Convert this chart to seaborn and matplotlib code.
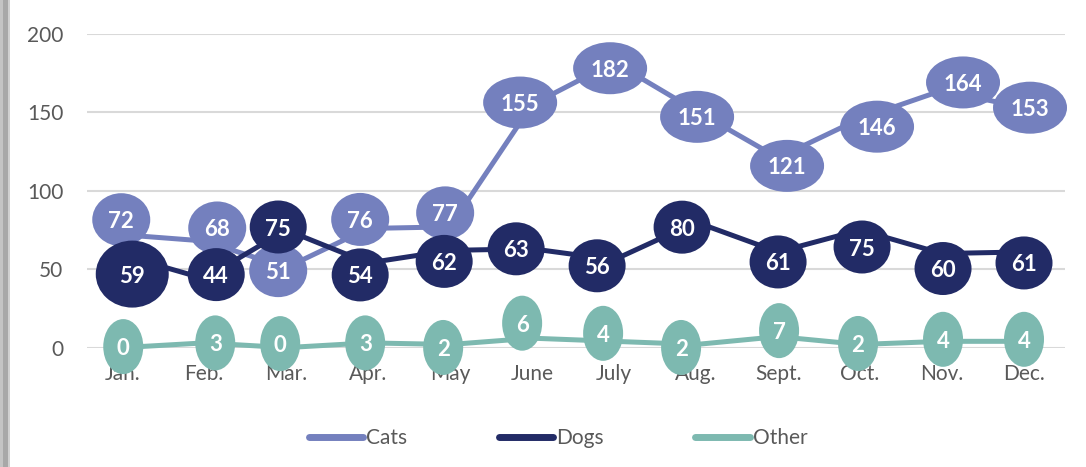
import numpy as np
import pandas as pd
import matplotlib
matplotlib.use('Agg')
import matplotlib.pyplot as plt
import seaborn as sns
from matplotlib.patches import Ellipse, Rectangle

# ---- data ----
months = ['Jan.', 'Feb.', 'Mar.', 'Apr.', 'May', 'June', 'July', 'Aug.', 'Sept.', 'Oct.', 'Nov.', 'Dec.']
cats = [72, 68, 51, 76, 77, 155, 182, 151, 121, 146, 164, 153]
dogs = [59, 44, 75, 54, 62, 63, 56, 80, 61, 75, 60, 61]
other = [0, 3, 0, 3, 2, 6, 4, 2, 7, 2, 4, 4]
series_names = ['Cats', 'Dogs', 'Other']
colors = ['#7480BE', '#222B66', '#7DB9B0']

# label nudges in pixels (dx to the right, dy downward), as dragged in the original
cats_nudge = [(-1, -15), (13, -13), (-8, 3), (-8, -9), (-5, -14), (-12, -2),
              (-4, 6), (1, 6), (9, 8), (17, 8), (21, -8), (6, 0)]
dogs_nudge = [(10, 19), (12, -4), (-8, -3), (-8, 12), (-6, 11), (-16, 0),
              (-17, 6), (-14, 5), (0, 10), (2, 17), (1, 15), (0, 11)]
other_nudge = [(1, -1), (11, 0), (-6, -4), (-3, 0), (-7, 3), (-10, -15),
               (-11, -8), (-15, 3), (1, -6), (-2, -1), (1, -2), (0, -2)]

df = pd.DataFrame({
    'pos': list(range(12)) * 3,
    'value': cats + dogs + other,
    'series': [s for s in series_names for _ in range(12)],
})

sns.set_style('white')
plt.rcParams['font.family'] = ['Lato', 'DejaVu Sans']

W, H = 1086, 467
fig = plt.figure(figsize=(W / 100, H / 100), dpi=100)
ax = fig.add_axes([87 / W, 1 - 347.6 / H, 978 / W, 313.6 / H])

sns.lineplot(data=df, x='pos', y='value', hue='series', palette=colors,
             linewidth=3.6, ax=ax, sort=False)
for ln in ax.lines:
    ln.set_clip_on(False)
    ln.set_solid_capstyle('round')

ax.set_xlim(-0.43, 11.5)
ax.set_ylim(0, 200)
ax.set_yticks([0, 50, 100, 150, 200])
ax.set_xticks(range(12))
ax.set_xticklabels(months)
ax.yaxis.grid(True, color='#D9D9D9', linewidth=1.5)
ax.set_axisbelow(True)
for sp in ax.spines.values():
    sp.set_visible(False)
ax.tick_params(axis='both', length=0, labelsize=15, labelcolor='#595959')
ax.tick_params(axis='x', pad=12)
ax.tick_params(axis='y', pad=17)
ax.set_xlabel('')
ax.set_ylabel('')

# pixel -> data scale
px_x = 978 / (11.5 + 0.43)
px_y = 313.6 / 200


def draw_labels(values, nudges, col, size_fn, z):
    for i, (v, (dx, dy)) in enumerate(zip(values, nudges)):
        w, h = size_fn(i, v)
        cx = i + dx / px_x
        cy = v - dy / px_y
        ax.add_patch(Ellipse((cx, cy), w / px_x, h / px_y, facecolor=col,
                             edgecolor='none', clip_on=False, zorder=z))
        ax.text(cx, cy, str(v), ha='center', va='center_baseline', color='white',
                fontsize=16, fontweight='bold', zorder=z + 0.5, clip_on=False)


draw_labels(cats, cats_nudge, colors[0],
            lambda i, v: (74, 52) if v >= 100 else (58, 53), 5)
draw_labels(dogs, dogs_nudge, colors[1],
            lambda i, v: (73, 67) if i == 0 else (57, 53), 6)
draw_labels(other, other_nudge, colors[2], lambda i, v: (40, 55), 7)

handles, labels = ax.get_legend_handles_labels()
ax.legend(handles, labels, loc='center', bbox_to_anchor=((558 - 87) / 978, (347.6 - 438) / 313.6),
          ncol=3, frameon=False, fontsize=15, handlelength=2.6, handletextpad=0.15,
          columnspacing=4.4, labelcolor='#595959')
for lh in ax.get_legend().get_lines():
    lh.set_linewidth(5)
    lh.set_solid_capstyle('round')

# grey frame edge on the left
fig.add_artist(Rectangle((0, 0), 3 / W, 1, transform=fig.transFigure, color='#C4C4C4', lw=0))
fig.add_artist(Rectangle((3 / W, 0), 5 / W, 1, transform=fig.transFigure, color='#A8A8A8', lw=0))
fig.add_artist(Rectangle((8 / W, 0), 2 / W, 1, transform=fig.transFigure, color='#D0D0D0', lw=0))

fig.savefig('out.png', dpi=100)
